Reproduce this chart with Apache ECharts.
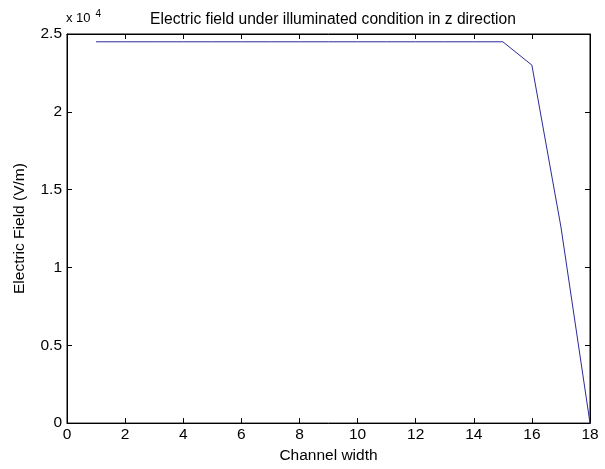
<!DOCTYPE html>
<html>
<head>
<meta charset="utf-8">
<script src="https://cdn.jsdelivr.net/npm/echarts@6/dist/echarts.min.js"></script>
<style>
  html, body { margin: 0; padding: 0; background: #fff; }
  #chart { width: 605px; height: 469px; }
</style>
</head>
<body>
<div id="chart"></div>
<script>
// channel position (x) and field values (V/m)
var channel = [1, 2, 3, 4, 5, 6, 7, 8, 9, 10, 11, 12, 13, 14, 15, 16, 17, 18]
var field = [24500, 24500, 24500, 24500, 24500, 24500, 24500, 24500, 24500,
  24500, 24500, 24500, 24500, 24500, 24500, 23000, 12600, 0]

var points = channel.map(function (c, i) { return [c, field[i]] })

var font = 'Liberation Sans, Arial, sans-serif'
var chart = echarts.init(document.getElementById('chart'))

function ticks() {
  return { show: true, inside: true, length: 5, lineStyle: { color: '#000', width: 1 } }
}
function line() {
  return { show: true, onZero: false, lineStyle: { color: '#000', width: 1 } }
}

var option = {
  animation: false,
  backgroundColor: '#fff',
  title: {
    text: 'Electric field under illuminated condition in z direction',
    left: 328,
    textAlign: 'center',
    top: 7,
    textStyle: { fontFamily: font, fontSize: 15.6, fontWeight: 'normal', color: '#000' }
  },
  grid: {
    left: 67, right: 15, top: 34, bottom: 39,
    show: true, borderColor: '#000', borderWidth: 1
  },
  graphic: [{
    type: 'text',
    left: 66,
    top: 9,
    style: {
      text: 'x 10{s|4}',
      font: '13px ' + font,
      fill: '#000',
      rich: { s: { fontSize: 10, verticalAlign: 'top', padding: [0, 0, 9, 5] } }
    }
  }],
  xAxis: [{
    type: 'value',
    min: 0, max: 18, interval: 2,
    name: 'Channel width',
    nameLocation: 'middle',
    nameGap: 22,
    nameTextStyle: { fontFamily: font, fontSize: 15.5, color: '#000' },
    axisLine: line(),
    axisTick: ticks(),
    axisLabel: { fontFamily: font, fontSize: 15.5, color: '#000', margin: 4 },
    splitLine: { show: false }
  }, {
    type: 'value',
    position: 'top',
    min: 0, max: 18, interval: 2,
    axisLine: line(),
    axisTick: ticks(),
    axisLabel: { show: false },
    splitLine: { show: false }
  }],
  yAxis: [{
    type: 'value',
    min: 0, max: 25000, interval: 5000,
    name: 'Electric Field (V/m)',
    nameLocation: 'middle',
    nameGap: 39,
    nameTextStyle: { fontFamily: font, fontSize: 15.5, color: '#000' },
    axisLine: line(),
    axisTick: ticks(),
    axisLabel: {
      fontFamily: font, fontSize: 15.5, color: '#000', margin: 5,
      formatter: function (v) { return String(v / 10000) }
    },
    splitLine: { show: false }
  }, {
    type: 'value',
    position: 'right',
    min: 0, max: 25000, interval: 5000,
    axisLine: line(),
    axisTick: ticks(),
    axisLabel: { show: false },
    splitLine: { show: false }
  }],
  series: [{
    type: 'line',
    data: points,
    showSymbol: false,
    lineStyle: { color: '#2a2a9a', width: 1 },
    clip: false
  }, {
    // empty series so the top and right axes are laid out and drawn
    type: 'line',
    xAxisIndex: 1,
    yAxisIndex: 1,
    data: [],
    silent: true
  }]
}

chart.setOption(option)
</script>
</body>
</html>
